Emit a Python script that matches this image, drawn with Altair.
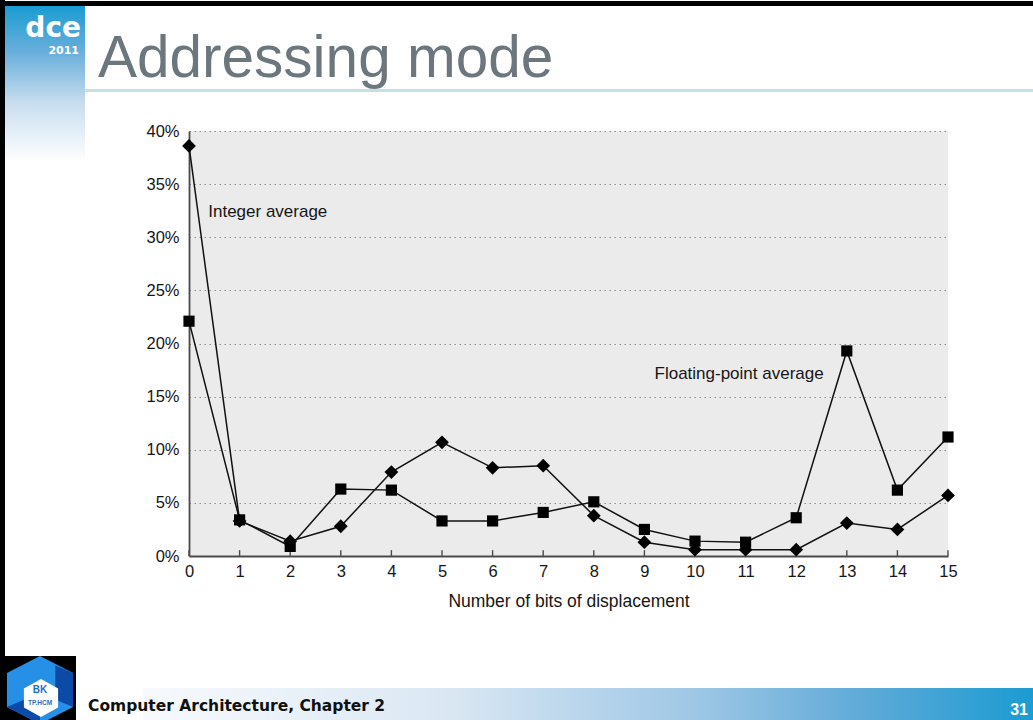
import altair as alt
import pandas as pd

# ---- data -------------------------------------------------------------
bits = list(range(16))
integer_avg = [38.6, 3.3, 1.4, 2.8, 7.9, 10.7, 8.3, 8.5, 3.8, 1.3, 0.6, 0.6, 0.6, 3.1, 2.5, 5.7]
float_avg = [22.1, 3.4, 0.9, 6.3, 6.2, 3.3, 3.3, 4.1, 5.1, 2.5, 1.4, 1.3, 3.6, 19.3, 6.2, 11.2]
y_ticks = [0, 5, 10, 15, 20, 25, 30, 35, 40]
series_names = ["Integer average", "Floating-point average"]
note_bits = [0.38, 9.2]
note_pct = [32.4, 17.1]

# ---- page geometry (slide is 1033 x 720, plot area placed by padding) --
PAGE_W, PAGE_H = 1033, 720
LEFT, TOP = 189, 131
PLOT_W, PLOT_H = 759, 425

FONT = "Liberation Sans"
INK = "#161616"


def px(x):
    return x - LEFT


def py(y):
    return y - TOP


one = alt.Data(values=[{"k": 0}])


def box(x1, y1, x2, y2, fill):
    return alt.Chart(one).mark_rect(fill=fill, strokeWidth=0).encode(
        x=alt.value(px(x1)), x2=alt.value(px(x2)),
        y=alt.value(py(y1)), y2=alt.value(py(y2)),
    )


def words(text, x, y, size, color, weight="normal", align="left",
          font=FONT, baseline="alphabetic"):
    return alt.Chart(one).mark_text(
        text=text, fontSize=size, color=color, fontWeight=weight,
        align=align, baseline=baseline, font=font,
    ).encode(x=alt.value(px(x)), y=alt.value(py(y)))


def glyph(path, cx, cy, size, fill):
    return alt.Chart(one).mark_point(
        shape=path, size=size, filled=True, color=fill, opacity=1, strokeWidth=0,
    ).encode(x=alt.value(px(cx)), y=alt.value(py(cy)))


def vgrad(stops):
    return alt.Gradient(
        gradient="linear",
        stops=[alt.GradientStop(color=c, offset=o) for o, c in stops],
        x1=0, x2=0, y1=0, y2=1,
    )


def hgrad(stops):
    return alt.Gradient(
        gradient="linear",
        stops=[alt.GradientStop(color=c, offset=o) for o, c in stops],
        x1=0, x2=1, y1=0, y2=0,
    )


# ---- slide decoration ---------------------------------------------------
hexagon = "M0,-1L0.972,-0.5L0.972,0.5L0,1L-0.972,0.5L-0.972,-0.5Z"
dark_right = "M0.45,-0.72L0.972,-0.5L0.972,0.5L0.45,0.28Z"
dark_left = "M-0.972,0.5L-0.45,0.28L0,0.52L0,1Z"
inner_hex = "M0,-1L0.9,-0.5L0.9,0.5L0,1L-0.9,0.5L-0.9,-0.5Z"

decor = [
    box(0, 1, PAGE_W, 6, "#000000"),
    box(0, 0, 5, 656, "#000000"),
    box(5, 6, 85, 162, vgrad([(0, "#1a9cd2"), (0.3, "#6aafdc"),
                              (0.62, "#c8ddee"), (1, "#ffffff")])),
    box(85, 89, PAGE_W, 92, "#c2e2e4"),
    words("dce", 81, 37, 28, "#ffffff", weight="bold", align="right",
          font="DejaVu Sans"),
    words("2011", 79, 54, 11, "#ffffff", weight="bold", align="right",
          font="DejaVu Sans"),
    words("Addressing mode", 98, 77, 58.5, "#6c767d"),
    # footer
    box(143, 688, PAGE_W, PAGE_H, hgrad([(0, "#f7fafd"), (0.345, "#dae7f3"),
                                          (0.63, "#9cc6e5"), (0.8, "#62abd8"),
                                          (1, "#1b9bd1")])),
    words("Computer Architecture, Chapter 2", 88, 711, 15.5, "#111111",
          weight="bold", font="DejaVu Sans"),
    words("31", 1028, 715, 16, "#ffffff", weight="bold", align="right"),
    # university badge
    box(0, 656, 76, PAGE_H, "#000000"),
    glyph(hexagon, 40, 690, 68 * 68, "#2590e6"),
    glyph(dark_right, 40, 690, 68 * 68, "#0b4aa6"),
    glyph(dark_left, 40, 690, 68 * 68, "#0b4aa6"),
    glyph(inner_hex, 41, 698, 38 * 38, "#ffffff"),
    words("BK", 40, 693, 10, "#1f6fc5", weight="bold", align="center"),
    words("TP.HCM", 40, 705, 6.5, "#1f6fc5", weight="bold", align="center"),
]

# ---- chart ---------------------------------------------------------------
df = pd.DataFrame({
    "bits": bits * 2,
    "pct": integer_avg + float_avg,
    "series": [series_names[0]] * len(bits) + [series_names[1]] * len(bits),
})

x_enc = alt.X(
    "bits:Q",
    scale=alt.Scale(domain=[0, 15], nice=False, zero=False),
    axis=alt.Axis(
        values=bits, format="d", title="Number of bits of displacement",
        grid=False, ticks=False, domainColor="#4a4a4a", domainWidth=1.8,
        labelFont=FONT, labelFontSize=16.5, labelColor=INK, labelPadding=7,
        labelFlush=False, labelOverlap=False,
        titleFont=FONT, titleFontSize=17.5, titleFontWeight="normal",
        titleColor=INK, titlePadding=13,
    ),
)
y_enc = alt.Y(
    "pct:Q",
    scale=alt.Scale(domain=[0, 40], nice=False),
    axis=alt.Axis(
        values=y_ticks, labelExpr="datum.value + '%'", title=None,
        grid=True, gridDash=[1.5, 3.5], gridColor="#8f8f8f", gridWidth=1.2,
        ticks=False, domainColor="#4a4a4a", domainWidth=1.8,
        labelFont=FONT, labelFontSize=16.5, labelColor=INK, labelPadding=10,
        labelFlush=False,
    ),
)

base = alt.Chart(df).encode(x=x_enc, y=y_enc)

lines = base.mark_line(color="#111111", strokeWidth=1.5).encode(detail="series:N")

int_pts = base.transform_filter(
    alt.datum.series == series_names[0]
).mark_point(shape="diamond", size=190, filled=True, color="#000000", opacity=1)

fp_pts = base.transform_filter(
    alt.datum.series == series_names[1]
).mark_point(shape="square", size=125, filled=True, color="#000000", opacity=1)

# inward tick marks on the horizontal axis
ticks = alt.Chart(pd.DataFrame({"bits": bits})).mark_rule(
    color="#4a4a4a", strokeWidth=1.4
).encode(x="bits:Q", y=alt.datum(0), y2=alt.datum(0.55))

notes = alt.Chart(pd.DataFrame({
    "bits": note_bits, "pct": note_pct, "label": series_names,
})).mark_text(
    align="left", baseline="middle", font=FONT, fontSize=17, color=INK,
).encode(x="bits:Q", y="pct:Q", text="label:N")

chart = alt.layer(
    *decor, ticks, lines, int_pts, fp_pts, notes
).properties(
    width=PLOT_W,
    height=PLOT_H,
    padding={"left": LEFT, "top": TOP,
             "right": PAGE_W - LEFT - PLOT_W, "bottom": PAGE_H - TOP - PLOT_H},
    autosize=alt.AutoSizeParams(type="none"),
    background="#ffffff",
).configure_view(fill="#ebebeb", strokeWidth=0)

chart.save("out.html", embed_options={"renderer": "svg", "actions": False})
